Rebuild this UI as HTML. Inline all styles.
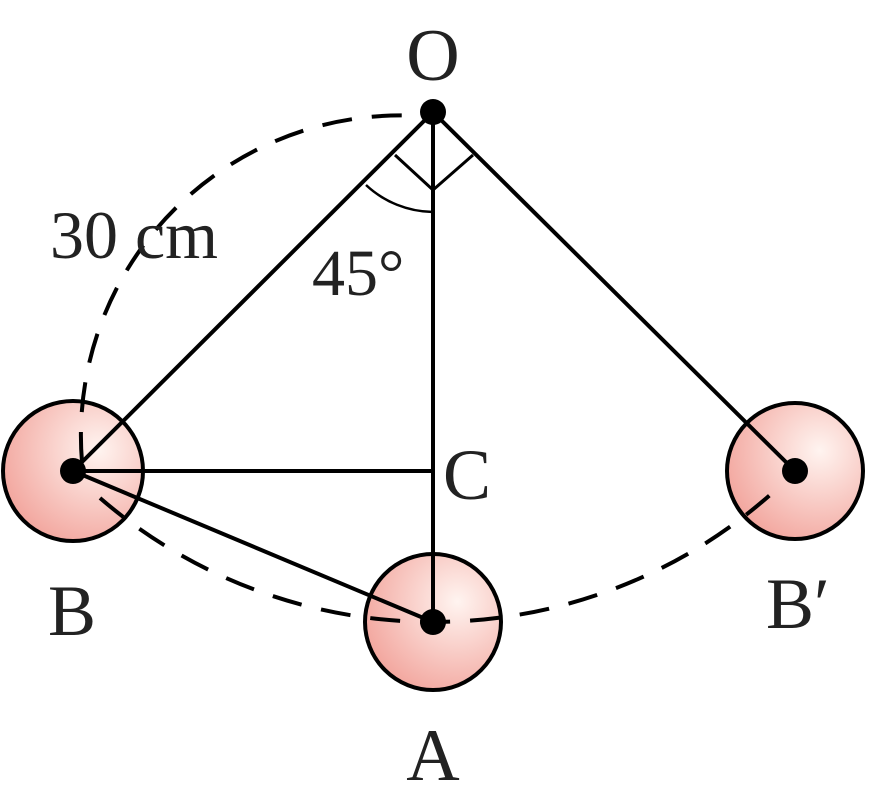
<!DOCTYPE html>
<html><head><style>body{margin:0;background:#fff}svg{display:block}text{font-family:"Liberation Serif",serif;fill:#222}</style></head>
<body>
<svg width="880" height="808" viewBox="0 0 880 808" xmlns="http://www.w3.org/2000/svg">
<defs>
<radialGradient id="g" cx="0.68" cy="0.35" r="0.75">
<stop offset="0" stop-color="#fff4f0"/><stop offset="1" stop-color="#f2a49c"/>
</radialGradient>
</defs>
<circle cx="73" cy="471" r="70" fill="url(#g)" stroke="#000" stroke-width="4"/>
<circle cx="795" cy="471" r="68" fill="url(#g)" stroke="#000" stroke-width="4"/>
<circle cx="433" cy="622" r="68" fill="url(#g)" stroke="#000" stroke-width="4"/>
<g stroke="#000" stroke-width="4" fill="none">
<line x1="433" y1="112" x2="433" y2="622"/>
<line x1="433" y1="112" x2="73" y2="471"/>
<line x1="433" y1="112" x2="795" y2="471"/>
<line x1="73" y1="471" x2="433" y2="471"/>
<line x1="73" y1="471" x2="433" y2="622"/>
<path d="M82 462 A320 320 0 0 1 420 116" stroke-dasharray="30 20"/>
<path d="M100 498 A510 510 0 0 0 770 495" stroke-dasharray="30 20"/>
<path d="M395 155 L433 190 L473 155" stroke-width="3"/>
<path d="M366 185 A100 100 0 0 0 433 212" stroke-width="2.5"/>
</g>
<circle cx="433" cy="112" r="13" fill="#000"/>
<circle cx="73" cy="471" r="13" fill="#000"/>
<circle cx="795" cy="471" r="13" fill="#000"/>
<circle cx="433" cy="622" r="13" fill="#000"/>
<text x="433" y="80" font-size="74" text-anchor="middle">O</text>
<text x="50" y="258" font-size="68">30 cm</text>
<text x="312" y="295" font-size="66">45°</text>
<text x="443" y="499" font-size="72">C</text>
<text x="72" y="635" font-size="72" text-anchor="middle">B</text>
<text x="766" y="628" font-size="72">B′</text>
<text x="433" y="780" font-size="74" text-anchor="middle">A</text>
</svg>
</body></html>
